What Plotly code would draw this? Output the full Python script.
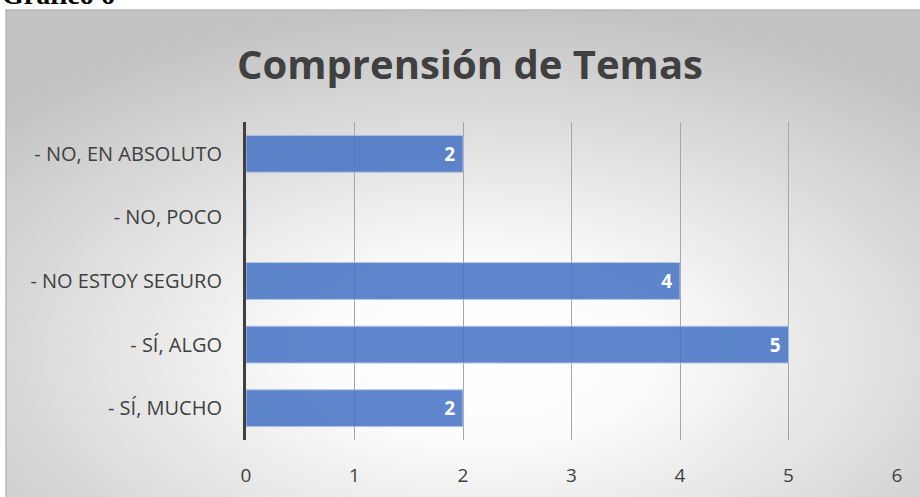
import base64
import plotly.graph_objects as go

categories = ["- NO, EN ABSOLUTO", "- NO, POCO", "- NO ESTOY SEGURO", "- SÍ, ALGO", "- SÍ, MUCHO"]
values = [2, 0, 4, 5, 2]
x_ticks = [0, 1, 2, 3, 4, 5, 6]

# radial grey background of the chart frame
svg = """<svg xmlns='http://www.w3.org/2000/svg' width='914' height='487' viewBox='0 0 914 487' preserveAspectRatio='none'>
<defs><radialGradient id='g' cx='0.52' cy='0.7' r='0.72'>
<stop offset='0' stop-color='#ffffff'/><stop offset='0.25' stop-color='#fcfcfc'/>
<stop offset='1' stop-color='#c2c2c2'/></radialGradient></defs>
<rect x='1' y='1' width='914' height='487' fill='url(#g)' stroke='#b8b8b8' stroke-width='1.5'/></svg>"""
bg = "data:image/svg+xml;base64," + base64.b64encode(svg.encode()).decode()

fig = go.Figure(go.Bar(
    y=categories,
    x=values,
    orientation="h",
    marker=dict(color="#4472C4", opacity=0.85, line=dict(color="#a9bfe6", width=1)),
    text=[(str(v) + "\u00a0") if v else "" for v in values],
    textposition="inside",
    insidetextanchor="end",
    textfont=dict(family="Open Sans", size=19, color="white", weight="bold"),
    hoverinfo="x+y",
))

fig.update_layout(
    width=920, height=497,
    autosize=False,
    margin=dict(l=0, r=0, t=0, b=0),
    paper_bgcolor="white",
    plot_bgcolor="rgba(0,0,0,0)",
    showlegend=False,
    bargap=0.42,
    images=[dict(source=bg, xref="paper", yref="paper", x=5 / 920, y=1 - 9 / 497,
                 sizex=916 / 920, sizey=489 / 497, xanchor="left", yanchor="top",
                 sizing="stretch", layer="below")],
    annotations=[
        dict(text="<b>Comprensión de Temas</b>", xref="paper", yref="paper",
             x=0.511, y=1 - 63 / 497, xanchor="center", yanchor="middle", showarrow=False,
             font=dict(family="Open Sans", size=40, color="#404040")),
        dict(text="<b>Gráfico 6</b>", xref="paper", yref="paper",
             x=0.0, y=1 - 12 / 497, xanchor="left", yanchor="bottom", showarrow=False,
             font=dict(family="Liberation Serif", size=28, color="black")),
    ],
    xaxis=dict(
        domain=[246 / 920, 897 / 920],
        range=[0, 6], tickvals=x_ticks, showgrid=True, gridcolor="#a6a6a6", gridwidth=1,
        zeroline=False, showline=False, ticks="", ticklabelstandoff=22, automargin=False,
        tickfont=dict(family="Open Sans", size=19, color="#404040"),
        fixedrange=True,
    ),
    yaxis=dict(
        domain=[1 - 440 / 497, 1 - 122 / 497],
        autorange="reversed", showgrid=False, zeroline=False, automargin=False,
        showline=True, linecolor="#404040", linewidth=3, ticks="", ticklabelstandoff=17,
        tickfont=dict(family="Open Sans", size=20, color="#404040"),
        fixedrange=True,
    ),
)

fig.write_html("out.html", config={"displayModeBar": False, "responsive": False},
               post_script="document.body.style.margin='0px';")
